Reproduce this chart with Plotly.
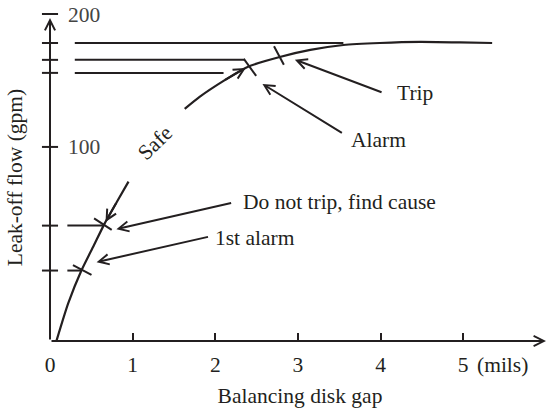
import plotly.graph_objects as go

### Data read off the schematic ###
# leak-off flow curve (gap where the "Safe" label sits)
curve_x = [0.08, 0.22, 0.38, 0.53, 0.66, 0.81, 0.95, None,
           1.63, 1.81, 2.10, 2.39, 2.78, 3.15, 3.55, 3.99, 4.48, 4.96, 5.35]
curve_y = [-45.5, -17.7, 7.0, 25.8, 42.3, 58.8, 73.9, None,
           128.7, 137.7, 149.7, 160.2, 167.7, 173.0, 176.7, 178.2, 179.0, 178.6, 178.2]

# set points on the y axis and where each level line meets the curve
level_y   = [178.2, 165.5, 155.7, 40.8, 7.0]
level_end = [3.55, 2.36, 2.10, 0.64, 0.38]

# crossing marks on the curve
event_x     = [0.39, 0.64, 2.42, 2.77]
event_y     = [7.4, 41.9, 159.8, 168.8]
event_angle = [28, 33, 54, 62]

# callouts
label_text   = ['1st alarm', 'Do not trip, find cause', 'Alarm', 'Trip']
label_x      = [1.97, 2.31, 3.62, 4.18]
label_y      = [31.8, 58.8, 105.4, 140.7]
arrow_tail_x = [1.93, 2.21, 3.55, 4.03]
arrow_tail_y = [32.6, 58.1, 109.9, 140.7]
arrow_tip_x  = [0.54, 0.78, 2.55, 2.94]
arrow_tip_y  = [13.0, 37.8, 148.2, 166.2]

x_ticks = [0, 1, 2, 3, 4, 5]
y_ticks = [100, 200]

### Style ###
ink      = '#231f20'
fontName = 'Liberation Serif'
fs       = 21.5
xMin, xMax = 0, 6.05
yMin, yMax = -46, 200
arrow    = dict(showarrow=True, arrowhead=5, arrowsize=1, arrowwidth=2, arrowcolor=ink,
                axref='x', ayref='y', text='')

fig = go.Figure()

# level lines (short gap after the axis tick)
lx, ly = [], []
for i, (lv, le) in enumerate(zip(level_y, level_end)):
    start = 0.30 if i < 3 else 0.21
    lx += [start, le, None]
    ly += [lv, lv, None]
fig.add_trace(go.Scatter(x=lx, y=ly, mode='lines', line=dict(color=ink, width=2),
                         hoverinfo='skip'))

# curve
fig.add_trace(go.Scatter(x=curve_x, y=curve_y, mode='lines',
                         line=dict(color=ink, width=2.2, shape='spline', smoothing=0.6),
                         connectgaps=False, hoverinfo='skip'))

# crossing marks
fig.add_trace(go.Scatter(x=event_x, y=event_y, mode='markers',
                         marker=dict(symbol='line-ew', size=15, angle=event_angle,
                                     line=dict(color=ink, width=2)),
                         hoverinfo='skip'))

# y axis ticks crossing the axis line
fig.add_trace(go.Scatter(x=[0] * (len(level_y) + len(y_ticks)), y=level_y + y_ticks,
                         mode='markers', cliponaxis=False,
                         marker=dict(symbol='line-ew', size=11.5,
                                     line=dict(color=ink, width=2)),
                         hoverinfo='skip'))

# callout arrows and text
for t, lx_, ly_, tx, ty, hx, hy in zip(label_text, label_x, label_y,
                                       arrow_tail_x, arrow_tail_y, arrow_tip_x, arrow_tip_y):
    fig.add_annotation(x=hx, y=hy, ax=tx, ay=ty, standoff=2, **arrow)
    fig.add_annotation(x=lx_, y=ly_, text=t, showarrow=False, xanchor='left',
                       font=dict(family=fontName, size=fs, color=ink))

# arrowheads along the curve
fig.add_annotation(x=curve_x[4], y=curve_y[4], ax=curve_x[5], ay=curve_y[5], standoff=2, **arrow)
fig.add_annotation(x=curve_x[11], y=curve_y[11], ax=curve_x[10], ay=curve_y[10], standoff=2, **arrow)

fig.add_annotation(x=1.27, y=103, text='Safe', textangle=-44, showarrow=False,
                   font=dict(family=fontName, size=fs, color=ink))

# axis lines with arrowheads
fig.add_annotation(x=0, y=yMax, ax=0, ay=yMin, standoff=4, **arrow)
fig.add_annotation(x=xMax, y=yMin, ax=0, ay=yMin, standoff=4, **arrow)

fig.add_annotation(x=5.145, y=-0.073, xref='x', yref='paper', text='(mils)', showarrow=False,
                   xanchor='left', yanchor='middle', font=dict(family=fontName, size=fs, color=ink))

fig.update_layout(width=555, height=409,
                  margin=dict(l=50, r=5, t=14, b=68),
                  showlegend=False,
                  paper_bgcolor='white', plot_bgcolor='white',
                  font=dict(family=fontName, size=fs, color=ink))

fig.update_xaxes(range=[xMin, xMax], tickvals=x_ticks, ticks='inside', ticklen=8,
                 tickwidth=2, tickcolor=ink, showgrid=False, zeroline=False, showline=False,
                 ticklabelstandoff=8, ticklabeloverflow='allow', automargin=False,
                 title=dict(text='Balancing disk gap', standoff=12,
                            font=dict(family=fontName, size=fs, color=ink)))
fig.update_yaxes(range=[yMin, yMax], tickvals=y_ticks, ticks='', showgrid=False,
                 zeroline=False, showline=False, ticklabelposition='inside',
                 ticklabelstandoff=15, ticklabeloverflow='allow', automargin=False,
                 title=dict(text='Leak-off flow (gpm)', standoff=39,
                            font=dict(family=fontName, size=fs, color=ink)))

# drop the default 8 px page margin so the figure fills the window exactly
fig.write_html("out.html", config={'displayModeBar': False},
               post_script="document.body.style.margin = '0';")
